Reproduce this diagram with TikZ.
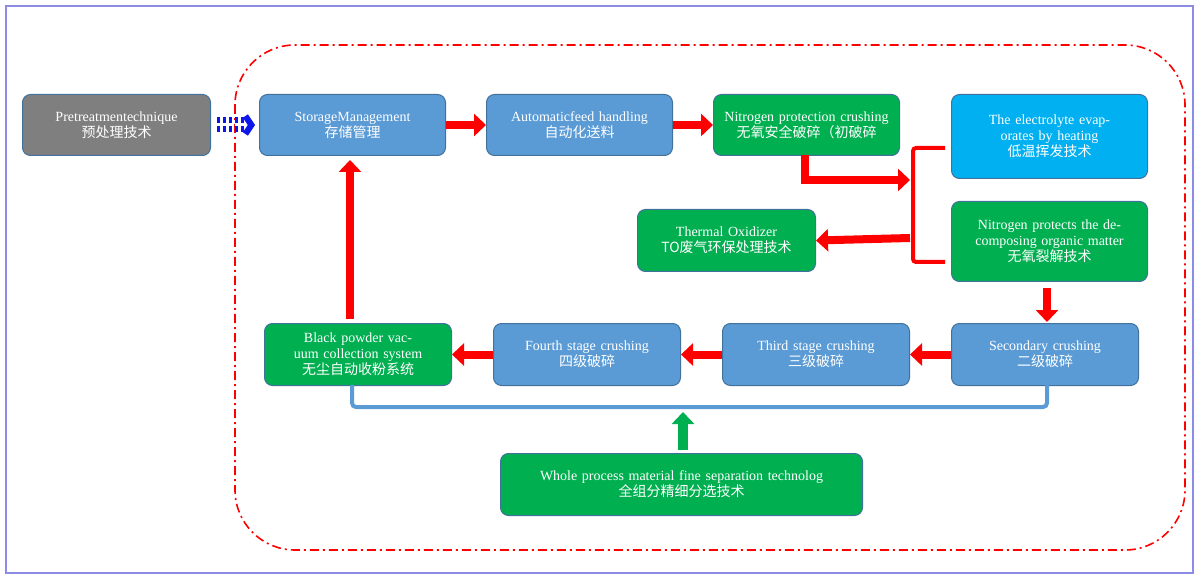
\documentclass[tikz,border=0pt]{standalone}
\usepackage{fontspec}
\setmainfont{Liberation Serif}
\newfontfamily\cjk{Noto Sans CJK SC}
\usetikzlibrary{arrows.meta}
\definecolor{gbox}{HTML}{7F7F7F}
\definecolor{bbox}{HTML}{5B9BD5}
\definecolor{grn}{HTML}{00B050}
\definecolor{lbl}{HTML}{00B0F0}
\definecolor{edge}{HTML}{41719C}
\begin{document}
\begin{tikzpicture}[x=1pt,y=-1pt,
  box/.style={draw=edge,line width=1pt,rounded corners=8pt,text=white,align=center,font=\fontsize{14}{16}\selectfont,inner sep=2pt},
  red arrow/.style={draw=red,line width=8pt,-{Triangle[length=12pt,width=22pt]}},
  cn/.style={}]
\useasboundingbox (0,0) rectangle (1200,580);
\fill[white] (0,0) rectangle (1200,580);
\draw[color={rgb,255:red,140;green,140;blue,230},line width=1.2pt] (6,6) rectangle (1193,573);
\draw[red,line width=1.6pt,dash pattern=on 9pt off 4pt on 2pt off 4pt,rounded corners=60pt] (235,45) rectangle (1185,550);
\newcommand{\bx}[7]{\node[box,fill=#6,minimum width=#4-#2,minimum height=#5-#3,anchor=north west,text width=#4-#2-10] (#1) at (#2,#3) {#7};}
\bx{pre}{22}{94}{210}{155}{gbox}{Pretreatmentechnique\\{\cjk 预处理技术}}
\bx{sto}{259}{94}{445}{155}{bbox}{StorageManagement\\{\cjk 存储管理}}
\bx{aut}{486}{94}{672}{155}{bbox}{Automaticfeed handling\\{\cjk 自动化送料}}
\bx{nit}{713}{94}{899}{155}{grn}{Nitrogen protection crushing\\{\cjk 无氧安全破碎（初破碎}}
\bx{ele}{951}{94}{1147}{178}{lbl}{The electrolyte evaporates by heating\\{\cjk 低温挥发技术}}
\bx{the}{637}{209}{815}{271}{grn}{Thermal Oxidizer\\{\cjk TO废气环保处理技术}}
\bx{npr}{951}{201}{1147}{281}{grn}{Nitrogen protects the decomposing organic matter\\{\cjk 无氧裂解技术}}
\bx{blk}{264}{323}{451}{385}{grn}{Black powder vacuum collection system\\{\cjk 无尘自动收粉系统}}
\bx{fou}{493}{323}{680}{385}{bbox}{Fourth stage crushing\\{\cjk 四级破碎}}
\bx{thi}{722}{323}{909}{385}{bbox}{Third stage crushing\\{\cjk 三级破碎}}
\bx{sec}{951}{323}{1138}{385}{bbox}{Secondary crushing\\{\cjk 二级破碎}}
\node[box,fill=grn,minimum width=362,minimum height=62,anchor=north west,text width=352] (who) at (500,453) {Whole process material fine separation technolog\\{\cjk 全组分精细分选技术}};
% arrows
\draw[edge!20!blue,line width=6pt,double=white,double distance=3pt,dashed,-{Straight Barb[length=6pt,width=18pt]}] (pre.east)++(6,0) -- ([xshift=-4pt]sto.west);
\draw[red arrow] (sto.east) -- (aut.west);
\draw[red arrow] (aut.east) -- (nit.west);
\coordinate (bt) at (945,148); \coordinate (bb) at (945,262);
\draw[red,line width=4pt,rounded corners=3pt] (bt) -- (913,148) -- (913,262) -- (bb);
\draw[red arrow] (805,155) |- (910,180);
\draw[red arrow] (910,238) -- (the.east);
\draw[red arrow] (npr.south -| 1047,0) ++(0,6) -- (1047,322);
\draw[red arrow] (sec.west) -- (thi.east);
\draw[red arrow] (thi.west) -- (fou.east);
\draw[red arrow] (fou.west) -- (blk.east);
\draw[red arrow] (blk.north -| 350,0) ++(0,-4) -- (350,160);
\coordinate (ba) at (352,407); \coordinate (bc) at (1047,407);
\draw[bbox,line width=4pt,rounded corners=4pt] (352,385) -- (ba) -- (bc) -- (1047,385);
\draw[grn,line width=10pt,-{Triangle[length=12pt,width=22pt]}] (who.north -| 683,0) ++(0,-3) -- (683,412);
\end{tikzpicture}
\end{document}
